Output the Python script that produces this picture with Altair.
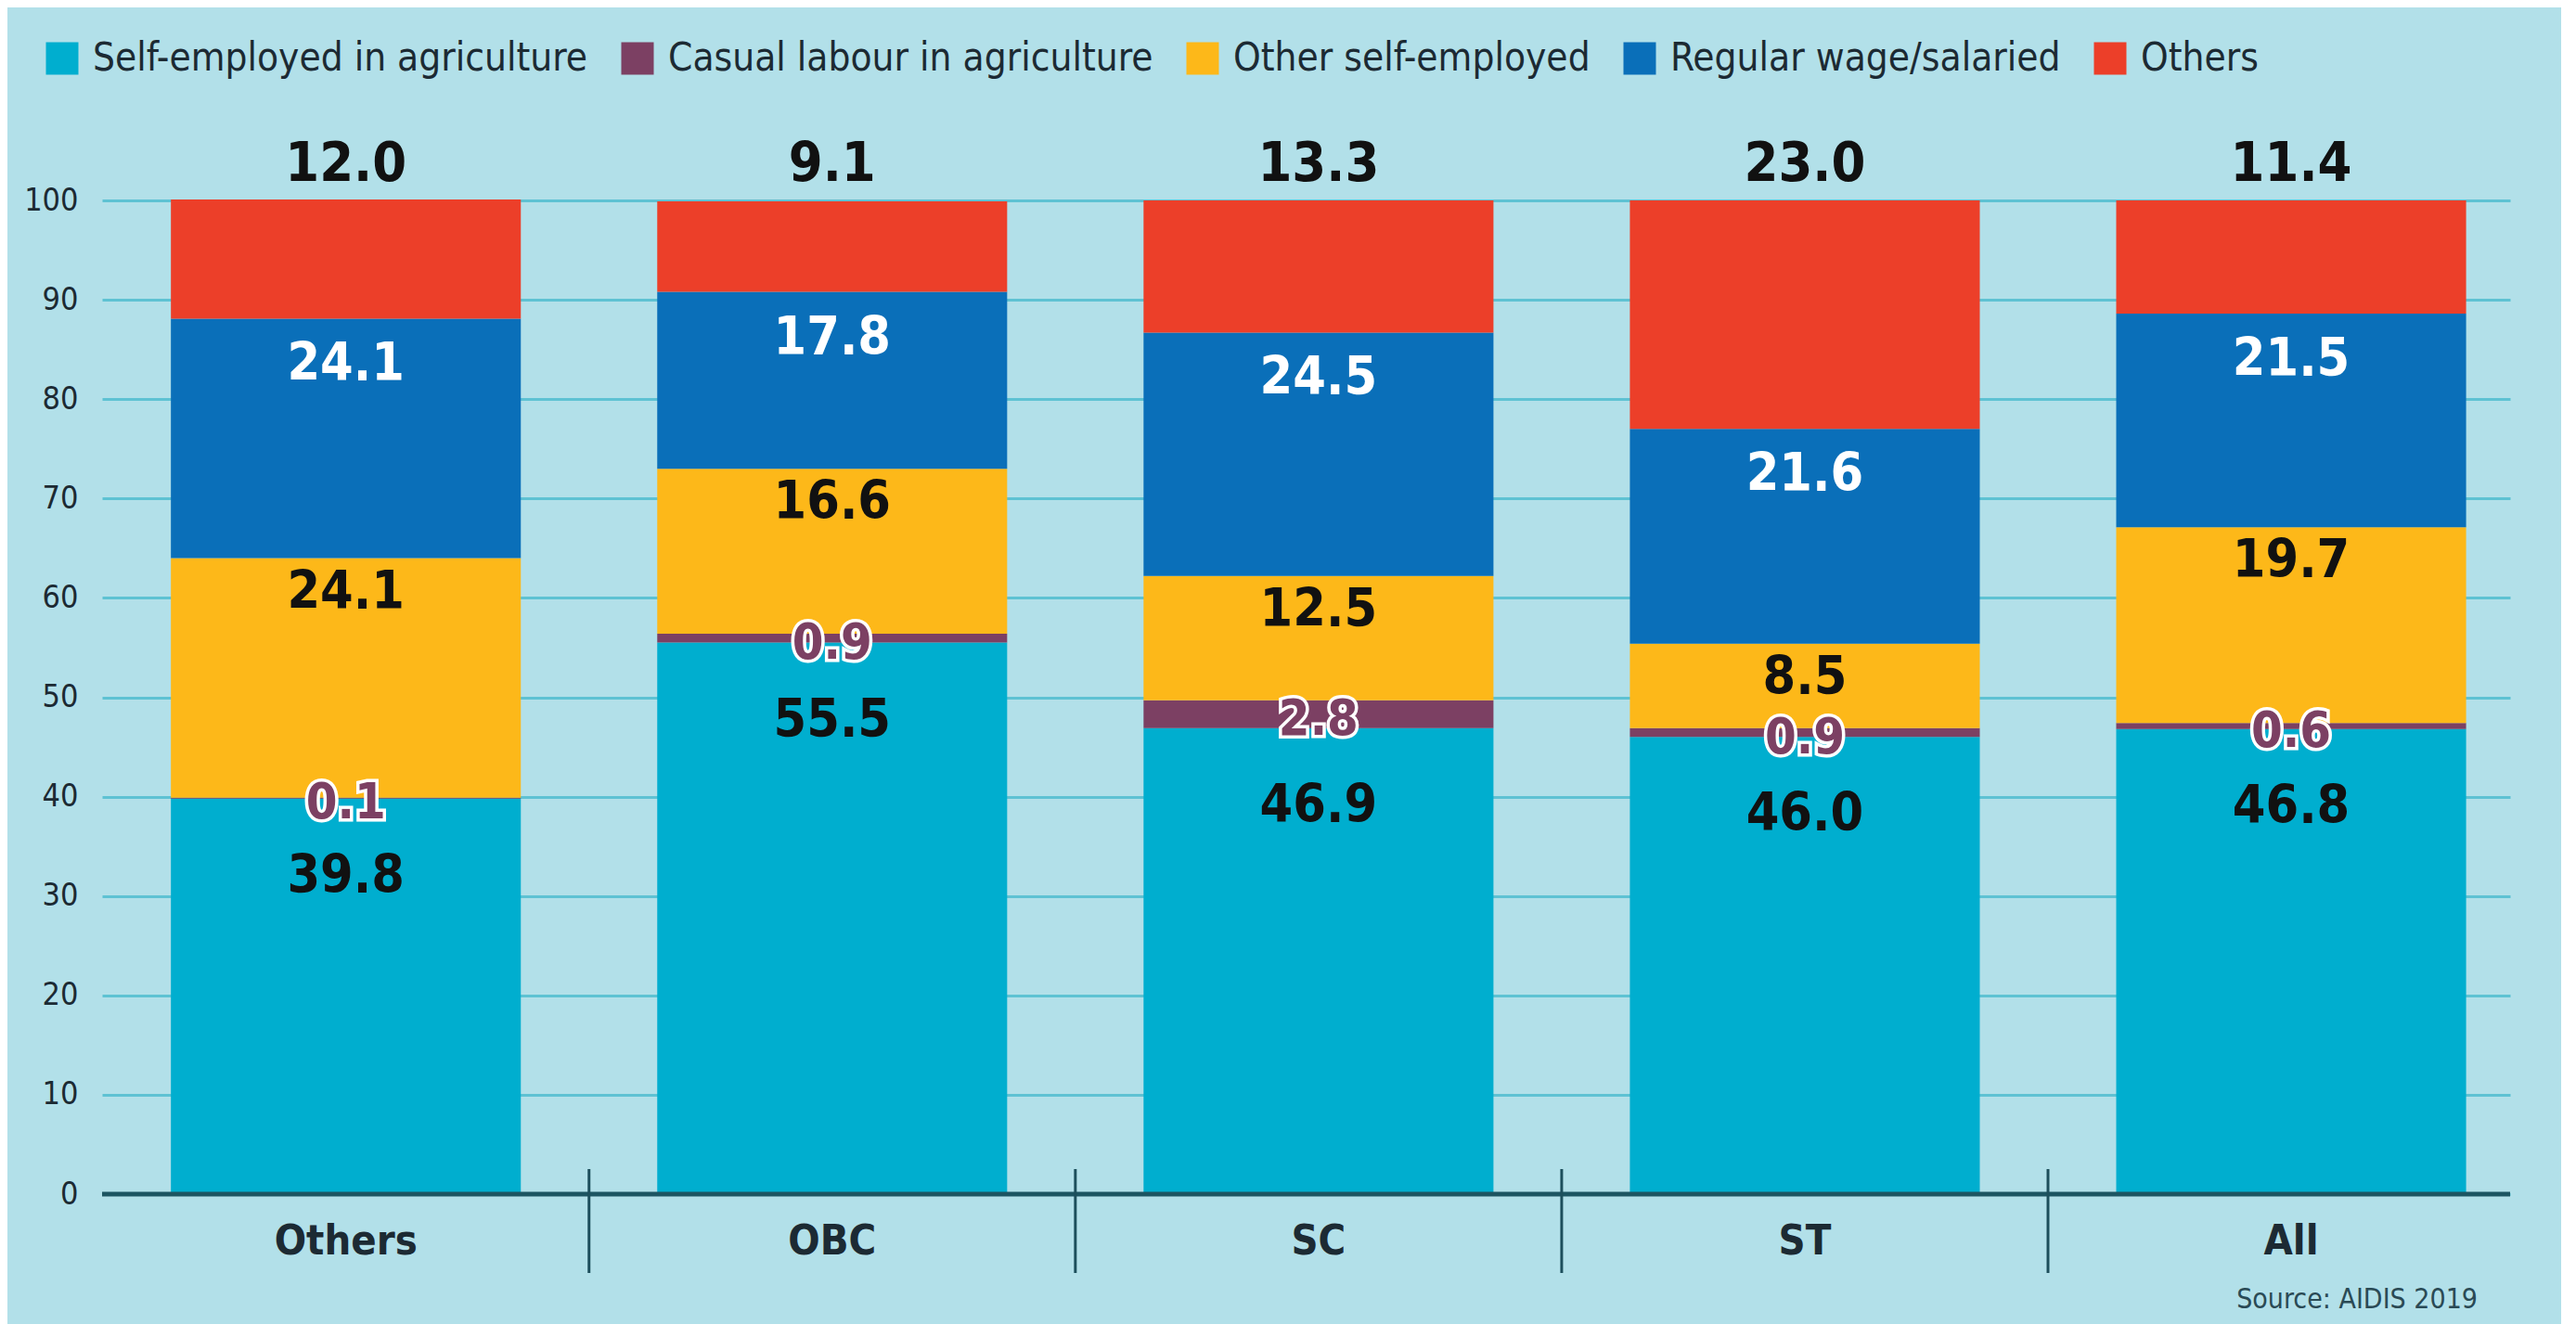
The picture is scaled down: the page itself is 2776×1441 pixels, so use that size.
import altair as alt
import pandas as pd

categories = ["Others", "OBC", "SC", "ST", "All"]
series = ["Self-employed in agriculture", "Casual labour in agriculture",
          "Other self-employed", "Regular wage/salaried", "Others"]
colors = ["#00aecf", "#7c4063", "#fdb819", "#0a6fb9", "#ec3f29"]

self_agri = [39.8, 55.5, 46.9, 46.0, 46.8]
casual_agri = [0.1, 0.9, 2.8, 0.9, 0.6]
other_self = [24.1, 16.6, 12.5, 8.5, 19.7]
regular = [24.1, 17.8, 24.5, 21.6, 21.5]
others = [12.0, 9.1, 13.3, 23.0, 11.4]

y_ticks = [0, 10, 20, 30, 40, 50, 60, 70, 80, 90, 100]
source = "Source: AIDIS 2019"

rows = []
for si, (name, vals) in enumerate(zip(series, [self_agri, casual_agri, other_self, regular, others])):
    for g, v in zip(categories, vals):
        rows.append({"group": g, "series": name, "value": v, "order": si, "label": f"{v:.1f}"})
df = pd.DataFrame(rows)

FONT = "DejaVu Sans Condensed, Liberation Sans Narrow, sans-serif"
BG = "#b2e0e9"
GRID = "#5ec2d3"
DARK = "#1c2a33"
W, H = 2595, 1071
LFS = 57

xscale = alt.Scale(domain=categories, paddingInner=0.2805, paddingOuter=0.116, align=0.61)
yscale = alt.Scale(domain=[0, 100], nice=False)

base = alt.Chart(df).transform_stack(
    stack="value", as_=["y0", "y1"], groupby=["group"],
    sort=[alt.SortField("order", order="ascending")]
).transform_calculate(mid="(datum.y0 + datum.y1) / 2")

X = alt.X("group:N", scale=xscale, sort=categories,
          axis=alt.Axis(title=None, ticks=False, domain=False, labelFont=FONT,
                        labelFontSize=45, labelFontWeight="bold", labelColor=DARK,
                        labelPadding=28, labelAngle=0))

bars = base.mark_bar().encode(
    x=X,
    y=alt.Y("y0:Q", scale=yscale,
            axis=alt.Axis(title=None, values=y_ticks, ticks=False, domain=False,
                          grid=True, gridColor=GRID, gridWidth=3, gridOpacity=1,
                          labelFont=FONT, labelFontSize=34, labelColor=DARK,
                          labelPadding=26)),
    y2="y1:Q",
    color=alt.Color("series:N", scale=alt.Scale(domain=series, range=colors),
                    legend=alt.Legend(orient="none", legendX=-64, legendY=-174,
                                      direction="horizontal", columns=5, title=None,
                                      symbolType="square", symbolSize=1225,
                                      symbolStrokeWidth=0, symbolOpacity=1,
                                      labelFont=FONT, labelFontSize=42,
                                      labelColor=DARK, labelOffset=12,
                                      columnPadding=32, labelLimit=0)),
)

def label_layer(sname, ycol, dy, color, size=LFS, **kw):
    return base.transform_filter(alt.datum.series == sname).mark_text(
        font=FONT, fontSize=size, fontWeight="bold", baseline="middle", align="center",
        dy=dy, color=color, **kw
    ).encode(x=alt.X("group:N", scale=xscale, sort=categories),
             y=alt.Y(f"{ycol}:Q", scale=yscale), text="label:N")

lab_cyan = label_layer(series[0], "y1", 84, "#111111")
lab_yellow = label_layer(series[2], "y1", 37, "#111111")
lab_blue = label_layer(series[3], "y1", 50, "#ffffff")
lab_casual_stroke = label_layer(series[1], "mid", 6, "#ffffff", size=54,
                                stroke="#ffffff", strokeWidth=7)
lab_casual = label_layer(series[1], "mid", 6, colors[1], size=54)

totals = base.transform_filter(alt.datum.series == series[4]).mark_text(
    font=FONT, fontSize=LFS + 2, fontWeight="bold", baseline="middle", align="center",
    dy=-39, color="#111111"
).encode(x=alt.X("group:N", scale=xscale, sort=categories), y=alt.datum(100), text="label:N")

zero = alt.Chart(pd.DataFrame({"z": [0]})).mark_rule(color="#1d5562", strokeWidth=5).encode(
    y=alt.Y("z:Q", scale=yscale))

seps = alt.Chart(pd.DataFrame({"group": categories[1:]})).mark_rule(
    color="#1d4f5c", strokeWidth=3, xOffset=-73.5
).encode(x=alt.X("group:N", scale=xscale, sort=categories, bandPosition=0),
         y=alt.value(H - 27), y2=alt.value(H + 85))

src = alt.Chart(pd.DataFrame({"t": [source]})).mark_text(
    font=FONT, fontSize=30, align="right", baseline="middle", color="#2a4a55"
).encode(x=alt.value(2560), y=alt.value(H + 114), text="t:N")

chart = alt.layer(bars, zero, seps, lab_cyan, lab_yellow, lab_blue,
                  lab_casual_stroke, lab_casual, totals, src).properties(
    width=W, height=H,
    padding={"left": 102, "top": 208, "right": 55, "bottom": 140},
    autosize=alt.AutoSizeParams(type="none"),
).configure(background=BG).configure_view(stroke=None)

chart.save("out.html", embed_options={"renderer": "svg", "actions": False})
